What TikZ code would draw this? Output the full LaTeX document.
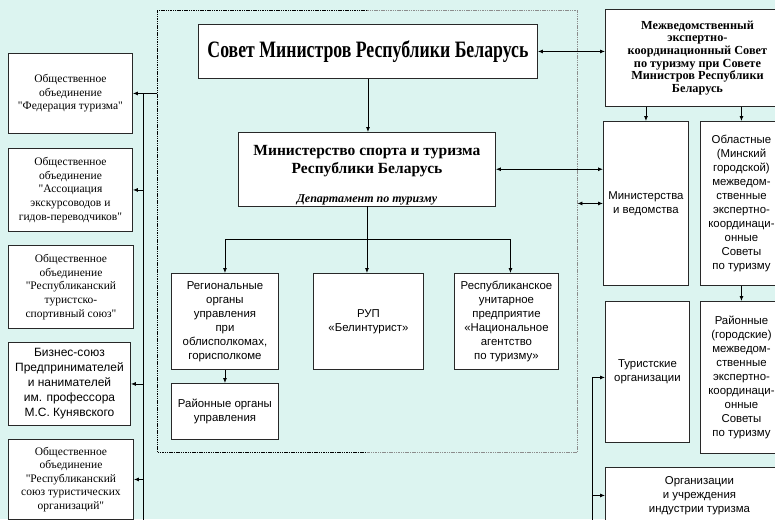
\documentclass[tikz,border=0pt]{standalone}
\usepackage{fontspec}
\usepackage{graphicx}
\setmainfont{Liberation Serif}[Ligatures=TeXOff]
\setsansfont{Liberation Sans}
\usetikzlibrary{arrows.meta}
\definecolor{bgmint}{RGB}{220,244,240}
\definecolor{edge}{RGB}{40,40,40}
\tikzset{
  box/.style={draw=edge, line width=0.9pt, fill=white, align=center,
    inner sep=1pt, anchor=north west},
  serifsm/.style={font=\fontsize{11.5}{13.6}\selectfont},
  sanssm/.style={font=\sffamily\fontsize{11.4}{14}\selectfont},
  wire/.style={line width=0.8pt, black},
  arr/.style={wire, -{Latex[length=5pt,width=4pt]}},
  dbl/.style={wire, {Latex[length=5pt,width=4pt]}-{Latex[length=5pt,width=4pt]}},
  fdot/.style={line width=0.8pt, dash pattern=on 1.5pt off 0.8pt},
}
\begin{document}
\begin{tikzpicture}[x=1pt,y=-1pt]
\useasboundingbox (0,0) rectangle (775,519);
\fill[bgmint] (0,0) rectangle (775,519);

% dotted frame around the state bodies
\node[minimum width=420, minimum height=442, inner sep=0, anchor=north west] (frame) at (157,10) {};
\draw[fdot, black] (frame.north) -- (frame.north west) -- (frame.south west) -- (frame.south);
\draw[fdot, black!45] (frame.north) -- (frame.north east) -- (frame.south east) -- (frame.south);

% central hierarchy
\node[box, minimum width=339, minimum height=54] (sovet) at (198,24)
  {\scalebox{0.755}[1]{\fontsize{23.5}{26}\selectfont\bfseries Совет Министров Республики Беларусь}};
\node[box, minimum width=257, minimum height=71, font=\fontsize{15.5}{18}\selectfont] (minsport) at (238,132)
  {\rule{0pt}{22pt}\textbf{Министерство спорта и туризма}\\\textbf{Республики Беларусь}\\[11pt]
   {\fontsize{12}{13}\selectfont\bfseries\itshape Департамент по туризму}};
\node[box, sanssm, minimum width=107, minimum height=96] (reg) at (171,273)
  {Региональные\\органы\\управления\\при\\облисполкомах,\\горисполкоме};
\node[box, sanssm, minimum width=110, minimum height=96] (rup) at (313,273)
  {РУП\\«Белинтурист»};
\node[box, sanssm, minimum width=104, minimum height=96] (rnp) at (454,273)
  {Республиканское\\унитарное\\предприятие\\«Национальное\\агентство\\по туризму»};
\node[box, sanssm, minimum width=107, minimum height=56] (rayon) at (171,383)
  {Районные органы\\управления};

% public associations
\node[box, serifsm, minimum width=124, minimum height=80] (f1) at (8,53)
  {Общественное\\объединение\\"Федерация туризма"};
\node[box, serifsm, minimum width=124, minimum height=83] (f2) at (8,148)
  {Общественное\\объединение\\"Ассоциация\\экскурсоводов и\\гидов-переводчиков"};
\node[box, serifsm, minimum width=125, minimum height=83] (f3) at (8,245)
  {Общественное\\объединение\\"Республиканский\\туристско-\\спортивный союз"};
\node[box, font=\sffamily\fontsize{12}{15}\selectfont, minimum width=122, minimum height=83] (f4) at (8,342)
  {Бизнес-союз\\Предпринимателей\\и нанимателей\\им. профессора\\М.С. Кунявского};
\node[box, serifsm, minimum width=125, minimum height=80] (f5) at (8,439)
  {Общественное\\объединение\\"Республиканский\\союз туристических\\организаций"};

% coordination councils and organisations
\node[box, font=\fontsize{12.3}{12.7}\selectfont\bfseries, minimum width=184, minimum height=97] (mezh) at (605,9)
  {Межведомственный\\экспертно-\\координационный Совет\\по туризму при Совете\\Министров Республики\\Беларусь};
\node[box, sanssm, minimum width=85, minimum height=164] (minv) at (603,121)
  {Министерства\\и ведомства};
\node[box, sanssm, minimum width=82, minimum height=164] (obl) at (700,121)
  {Областные\\(Минский\\городской)\\межведом-\\ственные\\экспертно-\\координаци-\\онные\\Советы\\по туризму};
\node[box, sanssm, minimum width=84, minimum height=141] (tur) at (605,301)
  {Туристские\\организации};
\node[box, sanssm, minimum width=82, minimum height=152] (rayg) at (700,301)
  {Районные\\(городские)\\межведом-\\ственные\\экспертно-\\координаци-\\онные\\Советы\\по туризму};
\node[box, sanssm, minimum width=188, minimum height=56] (org) at (605,467)
  {Организации\\и учреждения\\индустрии туризма};

% connectors: central hierarchy
\draw[arr] (sovet.south) -- (sovet.south |- minsport.north);
\coordinate (hub) at (minsport.south |- 0,239);
\draw[wire] (minsport.south) -- (hub);
\draw[arr] (hub) -- (hub |- rup.north);
\draw[arr] (hub) -| (reg.north);
\draw[arr] (hub) -| ([xshift=4pt]rnp.north);
\draw[arr] (reg.south) -- (reg.south |- rayon.north);

% connectors: right side
\draw[dbl] (sovet.east) -- (mezh.west |- sovet.east);
\draw[dbl] (minsport.east) -- (minv.west |- minsport.east);
\draw[dbl] (frame.east |- minv.west) -- (minv.west);
\draw[arr] (mezh.south -| minv.north) -- (minv.north);
\draw[arr] (mezh.south -| obl.north) -- (obl.north);
\draw[arr] (obl.south) -- (obl.south |- rayg.north);
\coordinate (rbus) at (592,525);
\draw[arr] (rbus) |- ([yshift=-5.5pt]tur.west);
\draw[arr] (rbus |- org.west) -- (org.west);

% connectors: left side
\coordinate (lbus) at (143,525);
\draw[arr] (frame.west |- f1.east) -- (f1.east);
\draw[wire] (lbus) -- (lbus |- f1.east);
\draw[arr] (lbus |- f2.east) -- (f2.east);
\draw[arr] (lbus |- f4.east) -- (f4.east);
\draw[arr] (lbus |- f5.east) -- (f5.east);
\end{tikzpicture}
\end{document}
